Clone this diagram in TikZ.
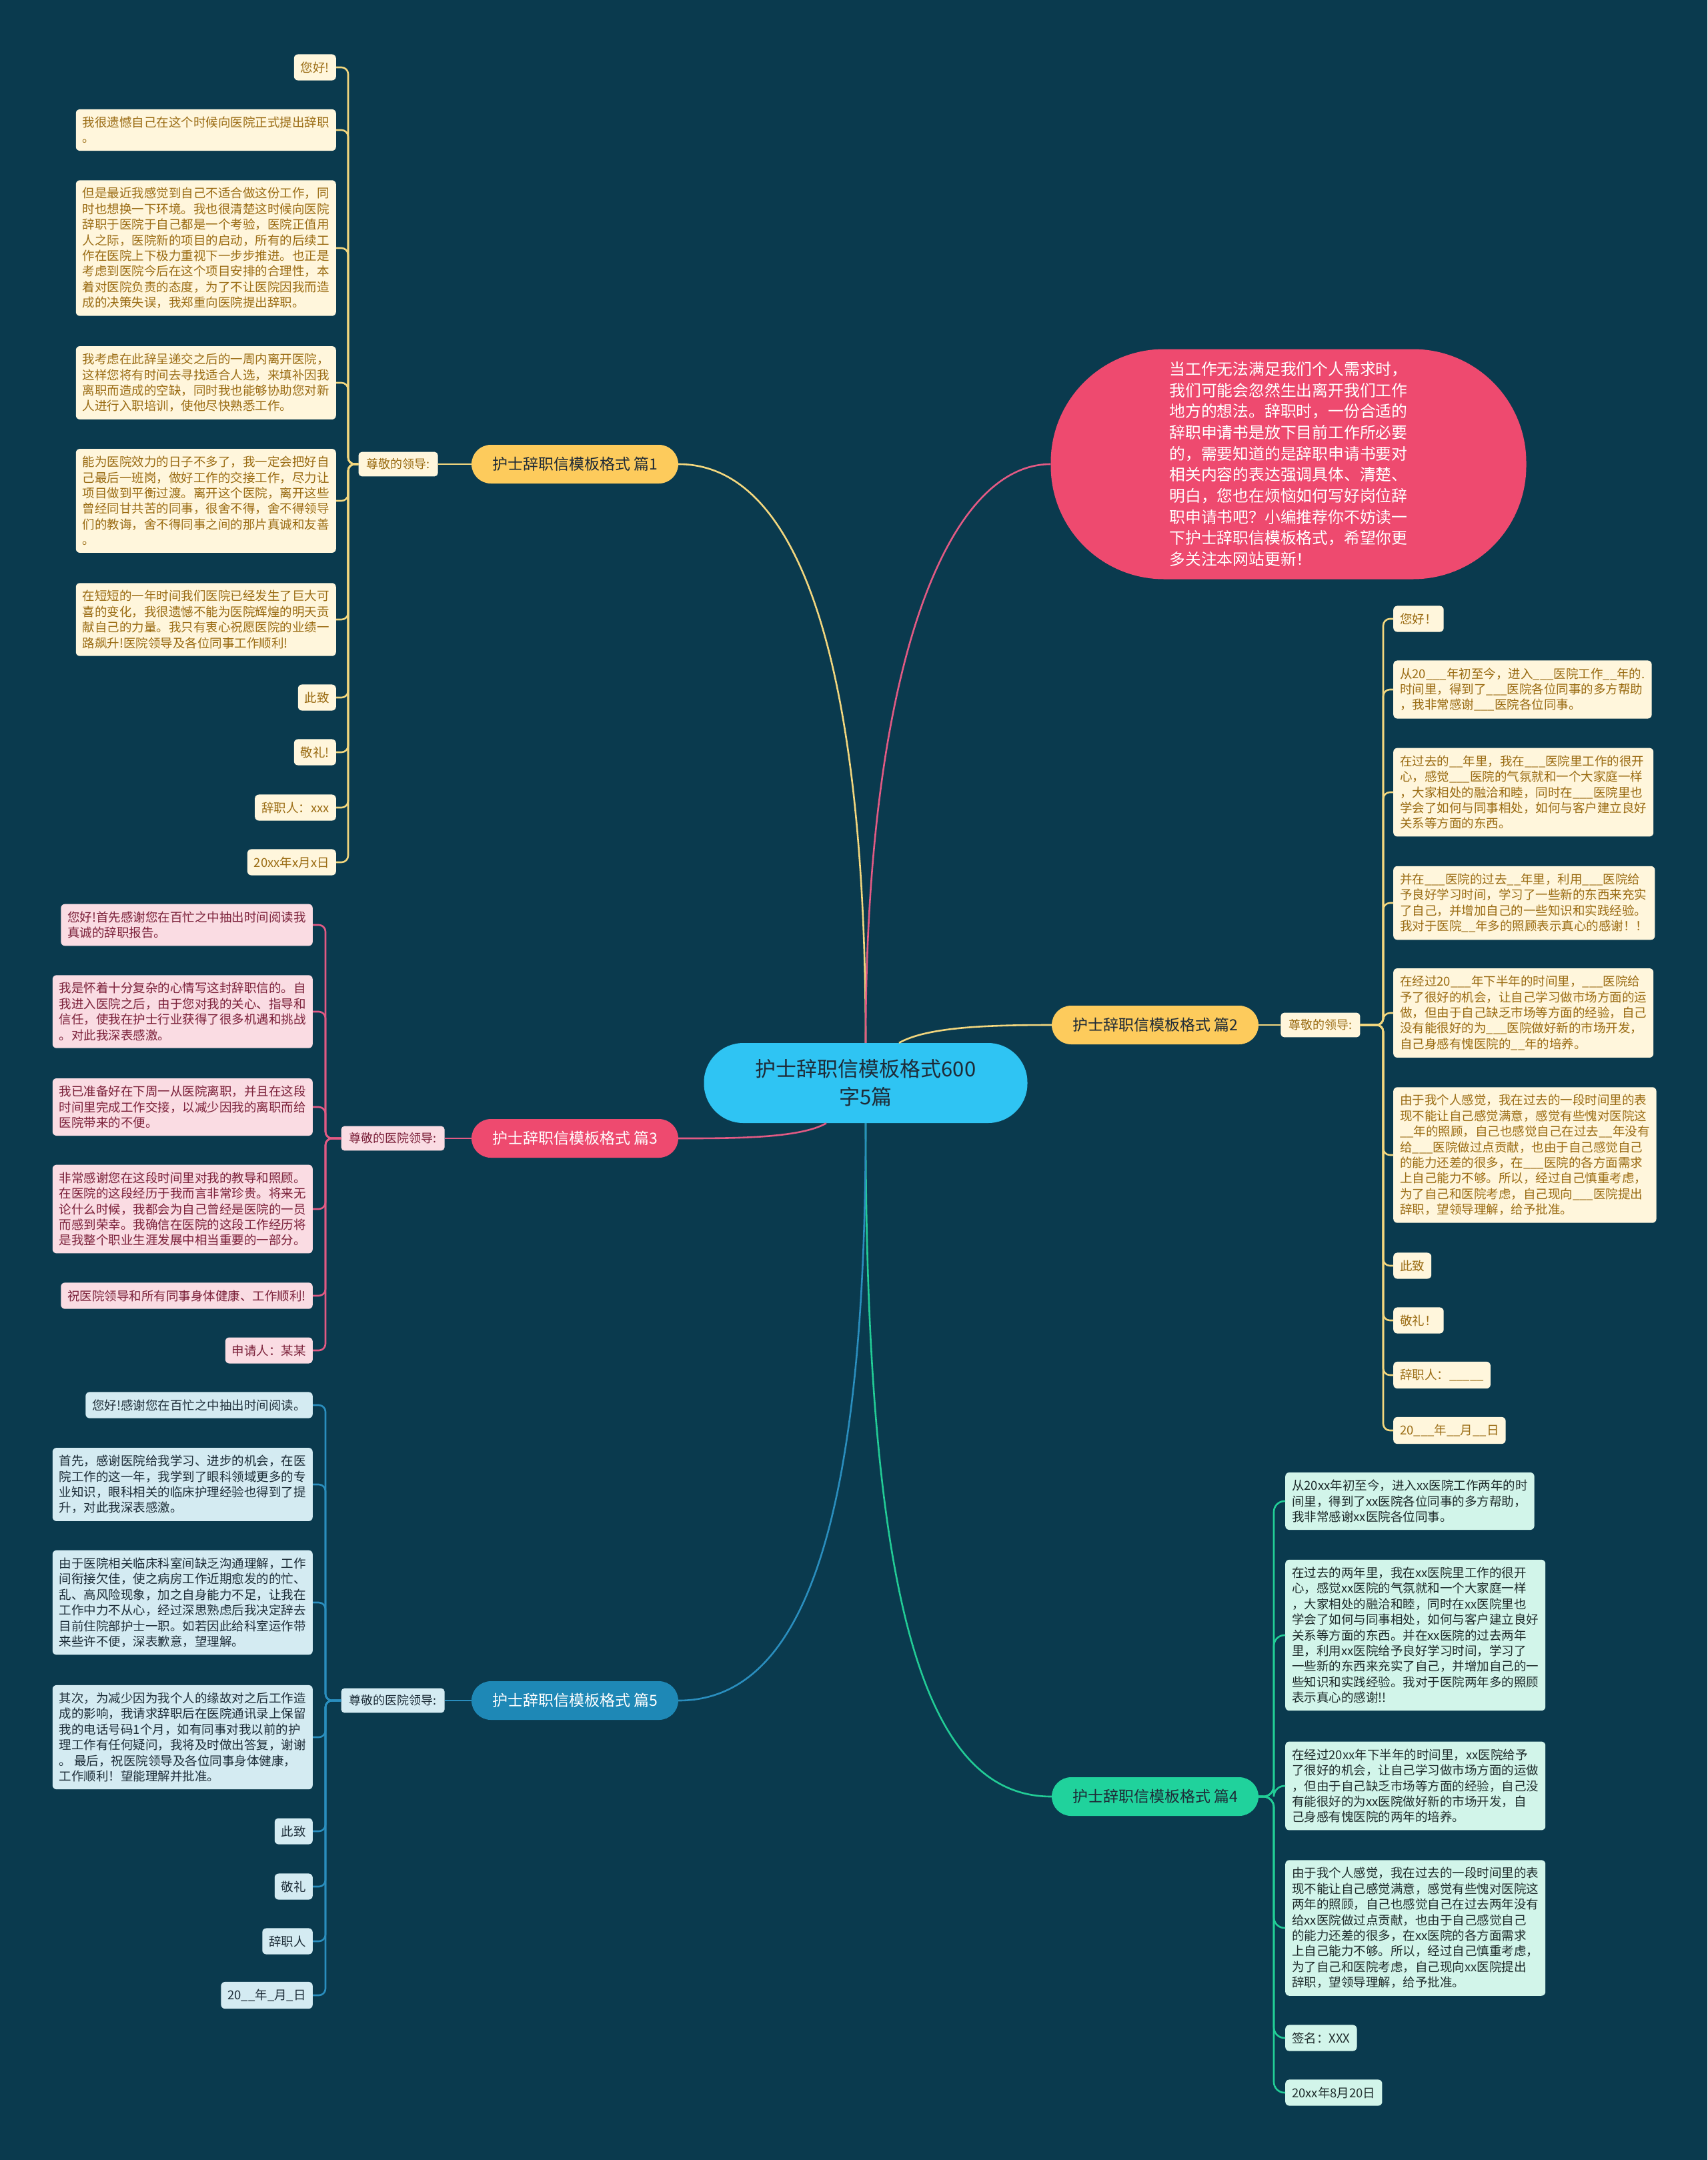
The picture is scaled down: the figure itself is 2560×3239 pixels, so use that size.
\documentclass[tikz,border=0pt]{standalone}
\usepackage{fontspec}
\setmainfont{Noto Sans CJK SC}
\usetikzlibrary{positioning}

\definecolor{bgc}{HTML}{0A3A4E}
\definecolor{hubc}{HTML}{2FC4F3}
\definecolor{inkD}{HTML}{1E2A36}
\definecolor{goldB}{HTML}{FDCB5C}
\definecolor{goldL}{HTML}{F3D77E}
\definecolor{creamY}{HTML}{FFF6DC}
\definecolor{textY}{HTML}{9A6B12}
\definecolor{roseB}{HTML}{EE4A6F}
\definecolor{roseL}{HTML}{E25A84}
\definecolor{creamP}{HTML}{FADCE3}
\definecolor{textP}{HTML}{7A1F38}
\definecolor{mintB}{HTML}{20D29C}
\definecolor{mintL}{HTML}{22CC96}
\definecolor{creamG}{HTML}{D2F5EA}
\definecolor{textG}{HTML}{1F2C2C}
\definecolor{seaB}{HTML}{1E88B6}
\definecolor{seaL}{HTML}{2A8EBE}
\definecolor{creamB}{HTML}{D4EBF2}
\definecolor{textB}{HTML}{1D2D38}

\newcommand{\blankl}{\_\_\_}
\newcommand{\blanks}{\_\_}

\tikzset{
  leaf/.style={
    rectangle, rounded corners=6pt, inner xsep=10pt, inner ysep=11pt,
    align=left, font=\fontsize{18.5}{23.4}\selectfont
  },
  leafY/.style={leaf, fill=creamY, text=textY},
  leafP/.style={leaf, fill=creamP, text=textP},
  leafG/.style={leaf, fill=creamG, text=textG},
  leafB/.style={leaf, fill=creamB, text=textB},
  branch/.style={rectangle, rounded corners=29pt, text=inkD,
                 minimum width=310pt, minimum height=58pt,
                 font=\fontsize{23}{27}\selectfont},
  salute/.style={rectangle, rounded corners=5pt, inner xsep=12pt,
                 inner ysep=10pt, font=\fontsize{18}{21}\selectfont},
  link/.style={line width=2.6pt, rounded corners=10pt},
  linkY/.style={link, draw=goldL},
  linkR/.style={link, draw=roseL},
  linkG/.style={link, draw=mintL, rounded corners=16pt},
  linkB/.style={link, draw=seaL}
}

\begin{document}
\begin{tikzpicture}[x=1pt, y=-1pt,
    hub/.style={rectangle, rounded corners=59pt, fill=hubc, text=inkD,
                minimum width=485pt, minimum height=120pt, align=center,
                font=\fontsize{31}{42}\selectfont},
    intro/.style={rectangle, rounded corners=170pt, fill=roseB, text=white,
                  minimum width=713pt, minimum height=345pt, align=left,
                  font=\fontsize{23.8}{31.7}\selectfont}
]
  \fill[bgc] (0,0) rectangle (2560,3239);

  % Centre topic and intro bubble
  \node[hub] (hub) at (1298,1624) {护士辞职信模板格式600\\字5篇};
  \node[intro] (intro) at (1932,696) {当工作无法满足我们个人需求时，\\我们可能会忽然生出离开我们工作\\地方的想法。辞职时，一份合适的\\辞职申请书是放下目前工作所必要\\的，需要知道的是辞职申请书要对\\相关内容的表达强调具体、清楚、\\明白，您也在烦恼如何写好岗位辞\\职申请书吧？小编推荐你不妨读一\\下护士辞职信模板格式，希望你更\\多关注本网站更新！};

  % Branches
  \node[branch, fill=goldB] (s1) at (862,696) {护士辞职信模板格式 篇1};
  \node[branch, fill=goldB] (s2) at (1732,1537) {护士辞职信模板格式 篇2};
  \node[branch, fill=roseB, text=white] (s3) at (862,1707) {护士辞职信模板格式 篇3};
  \node[branch, fill=mintB] (s4) at (1732,2694) {护士辞职信模板格式 篇4};
  \node[branch, fill=seaB, text=white] (s5) at (862,2550) {护士辞职信模板格式 篇5};

  % Salutations
  \node[salute, fill=creamY, text=textY, left=50pt of s1] (g1) {尊敬的领导:};
  \node[salute, fill=creamY, text=textY, right=33pt of s2] (g2) {尊敬的领导:};
  \node[salute, fill=creamP, text=textP, left=40pt of s3] (g3) {尊敬的医院领导:};
  \node[salute, fill=creamB, text=textB, left=40pt of s5] (g5) {尊敬的医院领导:};

  % Bracket junctions
  \coordinate (j1) at (522,696);
  \coordinate (j2) at (2074,1537);
  \coordinate (j3) at (488,1707);
  \coordinate (j4) at (1910,2694);
  \coordinate (j5) at (488,2550);

  % Leaves of 篇1 (left, top)
  \node[leafY, anchor=east] (a1) at (504,101) {您好!};
  \node[leafY, anchor=east] (a2) at (504,195) {我很遗憾自己在这个时候向医院正式提出辞职\\。};
  \node[leafY, anchor=east] (a3) at (504,372) {但是最近我感觉到自己不适合做这份工作，同\\时也想换一下环境。我也很清楚这时候向医院\\辞职于医院于自己都是一个考验，医院正值用\\人之际，医院新的项目的启动，所有的后续工\\作在医院上下极力重视下一步步推进。也正是\\考虑到医院今后在这个项目安排的合理性，本\\着对医院负责的态度，为了不让医院因我而造\\成的决策失误，我郑重向医院提出辞职。};
  \node[leafY, anchor=east] (a4) at (504,574) {我考虑在此辞呈递交之后的一周内离开医院，\\这样您将有时间去寻找适合人选，来填补因我\\离职而造成的空缺，同时我也能够协助您对新\\人进行入职培训，使他尽快熟悉工作。};
  \node[leafY, anchor=east] (a5) at (504,751) {能为医院效力的日子不多了，我一定会把好自\\己最后一班岗，做好工作的交接工作，尽力让\\项目做到平衡过渡。离开这个医院，离开这些\\曾经同甘共苦的同事，很舍不得，舍不得领导\\们的教诲，舍不得同事之间的那片真诚和友善\\。};
  \node[leafY, anchor=east] (a6) at (504,929) {在短短的一年时间我们医院已经发生了巨大可\\喜的变化，我很遗憾不能为医院辉煌的明天贡\\献自己的力量。我只有衷心祝愿医院的业绩一\\路飙升!医院领导及各位同事工作顺利!};
  \node[leafY, anchor=east] (a7) at (504,1046) {此致};
  \node[leafY, anchor=east] (a8) at (504,1128) {敬礼!};
  \node[leafY, anchor=east] (a9) at (504,1211) {辞职人：xxx};
  \node[leafY, anchor=east] (a10) at (504,1293) {20xx年x月x日};

  % Leaves of 篇2 (right, top)
  \node[leafY, anchor=west] (b1) at (2089,928) {您好！};
  \node[leafY, anchor=west] (b2) at (2089,1034) {从20\blankl{}年初至今，进入\blankl{}医院工作\blanks{}年的.\\时间里，得到了\blankl{}医院各位同事的多方帮助\\，我非常感谢\blankl{}医院各位同事。};
  \node[leafY, anchor=west] (b3) at (2089,1188) {在过去的\blanks{}年里，我在\blankl{}医院里工作的很开\\心，感觉\blankl{}医院的气氛就和一个大家庭一样\\，大家相处的融洽和睦，同时在\blankl{}医院里也\\学会了如何与同事相处，如何与客户建立良好\\关系等方面的东西。};
  \node[leafY, anchor=west] (b4) at (2089,1354) {并在\blankl{}医院的过去\blanks{}年里，利用\blankl{}医院给\\予良好学习时间，学习了一些新的东西来充实\\了自己，并增加自己的一些知识和实践经验。\\我对于医院\blanks{}年多的照顾表示真心的感谢！！};
  \node[leafY, anchor=west] (b5) at (2089,1519) {在经过20\blankl{}年下半年的时间里，\blankl{}医院给\\予了很好的机会，让自己学习做市场方面的运\\做，但由于自己缺乏市场等方面的经验，自己\\没有能很好的为\blankl{}医院做好新的市场开发，\\自己身感有愧医院的\blanks{}年的培养。};
  \node[leafY, anchor=west] (b6) at (2089,1732) {由于我个人感觉，我在过去的一段时间里的表\\现不能让自己感觉满意，感觉有些愧对医院这\\\blanks{}年的照顾，自己也感觉自己在过去\blanks{}年没有\\给\blankl{}医院做过点贡献，也由于自己感觉自己\\的能力还差的很多，在\blankl{}医院的各方面需求\\上自己能力不够。所以，经过自己慎重考虑，\\为了自己和医院考虑，自己现向\blankl{}医院提出\\辞职，望领导理解，给予批准。};
  \node[leafY, anchor=west] (b7) at (2089,1898) {此致};
  \node[leafY, anchor=west] (b8) at (2089,1980) {敬礼！};
  \node[leafY, anchor=west] (b9) at (2089,2062) {辞职人：\_\_\_\_\_};
  \node[leafY, anchor=west] (b10) at (2089,2145) {20\blankl{}年\blanks{}月\blanks{}日};

  % Leaves of 篇3 (left, middle)
  \node[leafP, anchor=east] (c1) at (469,1387) {您好!首先感谢您在百忙之中抽出时间阅读我\\真诚的辞职报告。};
  \node[leafP, anchor=east] (c2) at (469,1517) {我是怀着十分复杂的心情写这封辞职信的。自\\我进入医院之后，由于您对我的关心、指导和\\信任，使我在护士行业获得了很多机遇和挑战\\。对此我深表感激。};
  \node[leafP, anchor=east] (c3) at (469,1660) {我已准备好在下周一从医院离职，并且在这段\\时间里完成工作交接，以减少因我的离职而给\\医院带来的不便。};
  \node[leafP, anchor=east] (c4) at (469,1813) {非常感谢您在这段时间里对我的教导和照顾。\\在医院的这段经历于我而言非常珍贵。将来无\\论什么时候，我都会为自己曾经是医院的一员\\而感到荣幸。我确信在医院的这段工作经历将\\是我整个职业生涯发展中相当重要的一部分。};
  \node[leafP, anchor=east] (c5) at (469,1943) {祝医院领导和所有同事身体健康、工作顺利!};
  \node[leafP, anchor=east] (c6) at (469,2025) {申请人：某某};

  % Leaves of 篇4 (right, bottom)
  \node[leafG, anchor=west] (d1) at (1927,2251) {从20xx年初至今，进入xx医院工作两年的时\\间里，得到了xx医院各位同事的多方帮助，\\我非常感谢xx医院各位同事。};
  \node[leafG, anchor=west] (d2) at (1927,2452) {在过去的两年里，我在xx医院里工作的很开\\心，感觉xx医院的气氛就和一个大家庭一样\\，大家相处的融洽和睦，同时在xx医院里也\\学会了如何与同事相处，如何与客户建立良好\\关系等方面的东西。并在xx医院的过去两年\\里，利用xx医院给予良好学习时间，学习了\\一些新的东西来充实了自己，并增加自己的一\\些知识和实践经验。我对于医院两年多的照顾\\表示真心的感谢!!};
  \node[leafG, anchor=west] (d3) at (1927,2678) {在经过20xx年下半年的时间里，xx医院给予\\了很好的机会，让自己学习做市场方面的运做\\，但由于自己缺乏市场等方面的经验，自己没\\有能很好的为xx医院做好新的市场开发，自\\己身感有愧医院的两年的培养。};
  \node[leafG, anchor=west] (d4) at (1927,2891) {由于我个人感觉，我在过去的一段时间里的表\\现不能让自己感觉满意，感觉有些愧对医院这\\两年的照顾，自己也感觉自己在过去两年没有\\给xx医院做过点贡献，也由于自己感觉自己\\的能力还差的很多，在xx医院的各方面需求\\上自己能力不够。所以，经过自己慎重考虑，\\为了自己和医院考虑，自己现向xx医院提出\\辞职，望领导理解，给予批准。};
  \node[leafG, anchor=west] (d5) at (1927,3056) {签名：XXX};
  \node[leafG, anchor=west] (d6) at (1927,3138) {20xx年8月20日};

  % Leaves of 篇5 (left, bottom)
  \node[leafB, anchor=east] (e1) at (469,2107) {您好!感谢您在百忙之中抽出时间阅读。};
  \node[leafB, anchor=east] (e2) at (469,2226) {首先，感谢医院给我学习、进步的机会，在医\\院工作的这一年，我学到了眼科领域更多的专\\业知识，眼科相关的临床护理经验也得到了提\\升，对此我深表感激。};
  \node[leafB, anchor=east] (e3) at (469,2403) {由于医院相关临床科室间缺乏沟通理解，工作\\间衔接欠佳，使之病房工作近期愈发的的忙、\\乱、高风险现象，加之自身能力不足，让我在\\工作中力不从心，经过深思熟虑后我决定辞去\\目前住院部护士一职。如若因此给科室运作带\\来些许不便，深表歉意，望理解。};
  \node[leafB, anchor=east] (e4) at (469,2605) {其次，为减少因为我个人的缘故对之后工作造\\成的影响，我请求辞职后在医院通讯录上保留\\我的电话号码1个月，如有同事对我以前的护\\理工作有任何疑问，我将及时做出答复，谢谢\\。 最后，祝医院领导及各位同事身体健康，\\工作顺利！望能理解并批准。};
  \node[leafB, anchor=east] (e5) at (469,2746) {此致};
  \node[leafB, anchor=east] (e6) at (469,2829) {敬礼};
  \node[leafB, anchor=east] (e7) at (469,2911) {辞职人};
  \node[leafB, anchor=east] (e8) at (469,2992) {20\blanks{}年\_月\_日};

  % Main curves from the centre
  \draw[linkY] (hub.north) .. controls (1298,1000) and (1200,696) .. (s1.east);
  \draw[linkR] (hub.north) .. controls (1298,1000) and (1420,696) .. (intro.west);
  \draw[linkY] ([xshift=50pt]hub.north) .. controls (1390,1540) and (1480,1537) .. (s2.west);
  \draw[linkR] ([xshift=-59pt]hub.south) .. controls (1200,1707) and (1100,1707) .. (s3.east);
  \draw[linkG] (hub.south) .. controls (1298,2450) and (1400,2694) .. (s4.west);
  \draw[linkB] (hub.south) .. controls (1298,2300) and (1200,2550) .. (s5.east);

  % Branch to salutation
  \draw[linkY] (s1.west) -- (g1.east);
  \draw[linkY] (s2.east) -- (g2.west);
  \draw[linkR] (s3.west) -- (g3.east);
  \draw[linkB] (s5.west) -- (g5.east);

  % Brackets of 篇1
  \draw[linkY] (g1.west) -- (j1) |- (a1.east);
  \draw[linkY] (g1.west) -- (j1) |- (a2.east);
  \draw[linkY] (g1.west) -- (j1) |- (a3.east);
  \draw[linkY] (g1.west) -- (j1) |- (a4.east);
  \draw[linkY] (g1.west) -- (j1) |- (a5.east);
  \draw[linkY] (g1.west) -- (j1) |- (a6.east);
  \draw[linkY] (g1.west) -- (j1) |- (a7.east);
  \draw[linkY] (g1.west) -- (j1) |- (a8.east);
  \draw[linkY] (g1.west) -- (j1) |- (a9.east);
  \draw[linkY] (g1.west) -- (j1) |- (a10.east);

  % Brackets of 篇2
  \draw[linkY] (g2.east) -- (j2) |- (b1.west);
  \draw[linkY] (g2.east) -- (j2) |- (b2.west);
  \draw[linkY] (g2.east) -- (j2) |- (b3.west);
  \draw[linkY] (g2.east) -- (j2) |- (b4.west);
  \draw[linkY] (g2.east) -- (j2) |- (b5.west);
  \draw[linkY] (g2.east) -- (j2) |- (b6.west);
  \draw[linkY] (g2.east) -- (j2) |- (b7.west);
  \draw[linkY] (g2.east) -- (j2) |- (b8.west);
  \draw[linkY] (g2.east) -- (j2) |- (b9.west);
  \draw[linkY] (g2.east) -- (j2) |- (b10.west);

  % Brackets of 篇3
  \draw[linkR] (g3.west) -- (j3) |- (c1.east);
  \draw[linkR] (g3.west) -- (j3) |- (c2.east);
  \draw[linkR] (g3.west) -- (j3) |- (c3.east);
  \draw[linkR] (g3.west) -- (j3) |- (c4.east);
  \draw[linkR] (g3.west) -- (j3) |- (c5.east);
  \draw[linkR] (g3.west) -- (j3) |- (c6.east);

  % Brackets of 篇4 (no salutation)
  \draw[linkG] (s4.east) -- (j4) |- (d1.west);
  \draw[linkG] (s4.east) -- (j4) |- (d2.west);
  \draw[linkG] (s4.east) -- (j4) |- (d3.west);
  \draw[linkG] (s4.east) -- (j4) |- (d4.west);
  \draw[linkG] (s4.east) -- (j4) |- (d5.west);
  \draw[linkG] (s4.east) -- (j4) |- (d6.west);

  % Brackets of 篇5
  \draw[linkB] (g5.west) -- (j5) |- (e1.east);
  \draw[linkB] (g5.west) -- (j5) |- (e2.east);
  \draw[linkB] (g5.west) -- (j5) |- (e3.east);
  \draw[linkB] (g5.west) -- (j5) |- (e4.east);
  \draw[linkB] (g5.west) -- (j5) |- (e5.east);
  \draw[linkB] (g5.west) -- (j5) |- (e6.east);
  \draw[linkB] (g5.west) -- (j5) |- (e7.east);
  \draw[linkB] (g5.west) -- (j5) |- (e8.east);
\end{tikzpicture}
\end{document}
